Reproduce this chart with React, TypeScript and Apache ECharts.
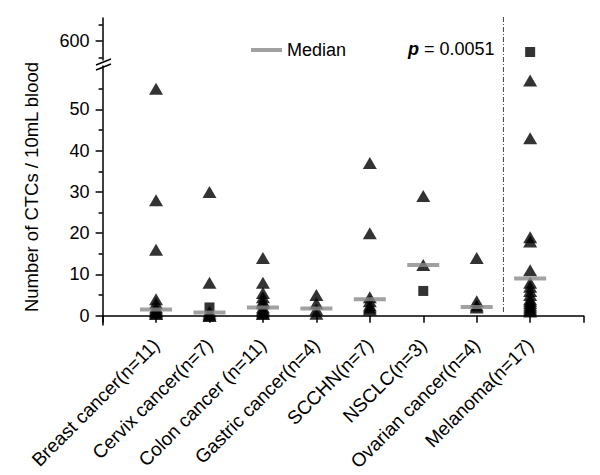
import React, { useEffect, useRef } from 'react';
import * as echarts from 'echarts';

const categories = [
  'Breast cancer(n=11)',
  'Cervix cancer(n=7)',
  'Colon cancer (n=11)',
  'Gastric cancer(n=4)',
  'SCCHN(n=7)',
  'NSCLC(n=3)',
  'Ovarian cancer(n=4)',
  'Melanoma(n=17)',
];

// triangle-marked values per group (CTCs / 10 mL blood)
const breastTriangles = [55, 28, 16, 4, 3, 2, 1.5, 1, 1, 0.5, 0.5];
const cervixTriangles = [30, 8, 1, 0.5, 0, 0];
const colonTriangles = [14, 8, 5.5, 4.5, 3.5, 3, 2, 1.5, 1, 0.5, 0.5];
const gastricTriangles = [5, 3, 1.5, 0.5];
const scchnTriangles = [37, 20, 4.5, 3.5, 2.5, 2, 1.5];
const nsclcTriangles = [29, 12.3];
const ovarianTriangles = [14, 3.5, 2.5, 2];
const melanomaTriangles = [57, 43, 19, 18, 11, 8, 7, 6, 5, 4, 3.5, 3, 2.5, 2, 1.5, 1];

// square-marked values: [group position (1-based), value]
const squarePoints: [number, number][] = [
  [2, 2],
  [6, 6],
  [8, 567],
];

const medians = [1.5, 0.75, 2, 1.75, 4, 12.3, 2.1, 9];

const lowerTicks = [0, 10, 20, 30, 40, 50];
const lowerMinorTicks = [5, 15, 25, 35, 45, 55];
const upperTicks = [600];
const upperMinorTicks = [550, 650];

const FONT = '"Liberation Sans", Arial, sans-serif';
const BREAK_LOW = 60.5; // top of lower segment
const BREAK_HIGH = 543; // bottom of upper segment

export default function App() {
  const ref = useRef<HTMLDivElement>(null);

  useEffect(() => {
    if (!ref.current) return;
    const chart = echarts.init(ref.current, null, { renderer: 'svg' });

    const groups = [
      breastTriangles,
      cervixTriangles,
      colonTriangles,
      gastricTriangles,
      scchnTriangles,
      nsclcTriangles,
      ovarianTriangles,
      melanomaTriangles,
    ];
    const triangleData: [number, number][] = [];
    groups.forEach((g, i) => g.forEach((v) => triangleData.push([i + 1, v])));
    const lowSquares = squarePoints.filter((p) => p[1] <= BREAK_LOW);
    const highSquares = squarePoints.filter((p) => p[1] > BREAK_LOW);
    const medianData = medians.map((m, i) => [i + 1, m]);

    const axisLineStyle = { color: '#000', width: 1.5 };

    chart.setOption({
      animation: false,
      textStyle: { fontFamily: FONT },
      title: {
        text: '{p|p} = 0.0051',
        left: 403,
        top: 35,
        textStyle: {
          fontSize: 18,
          fontWeight: 'normal',
          color: '#000',
          fontFamily: FONT,
          rich: {
            p: { fontSize: 18, fontWeight: 'bold', fontStyle: 'italic', color: '#000', fontFamily: FONT },
          },
        },
      },
      legend: {
        data: ['Median'],
        left: 246,
        top: 36,
        icon: 'rect',
        itemWidth: 31,
        itemHeight: 4,
        textStyle: { fontSize: 18, color: '#000', fontFamily: FONT },
        itemStyle: { color: '#8a8a8a' },
      },
      grid: [
        { left: 102.6, right: 16.4, top: 66, bottom: 150 },
        { left: 102.6, right: 16.4, top: 18, height: 42 },
      ],
      xAxis: [
        {
          type: 'value',
          gridIndex: 0,
          min: 0,
          max: 9,
          interval: 1,
          splitLine: { show: false },
          axisLine: { lineStyle: axisLineStyle },
          axisTick: { length: 7, lineStyle: { color: '#000', width: 1.5 } },
          axisLabel: {
            rotate: 45,
            margin: 17,
            fontSize: 19,
            color: '#000',
            fontFamily: FONT,
            formatter: (v: number) => categories[v - 1] ?? '',
          },
        },
        {
          type: 'value',
          gridIndex: 1,
          min: 0,
          max: 9,
          interval: 1,
          show: false,
        },
      ],
      yAxis: [
        {
          type: 'value',
          gridIndex: 0,
          position: 'left',
          min: -2.25,
          max: BREAK_LOW,
          splitLine: { show: false },
          axisLine: { show: true, lineStyle: axisLineStyle },
          axisTick: { customValues: lowerTicks, length: 7, lineStyle: { color: '#000', width: 1.5 } },
          axisLabel: { customValues: lowerTicks, margin: 13, fontSize: 18, color: '#000', fontFamily: FONT },
        },
        {
          type: 'value',
          gridIndex: 0,
          position: 'left',
          offset: 0,
          min: -2.25,
          max: BREAK_LOW,
          splitLine: { show: false },
          axisLine: { show: false },
          axisTick: { customValues: lowerMinorTicks, length: 4, lineStyle: { color: '#000', width: 1.5 } },
          axisLabel: { show: false },
        },
        {
          type: 'value',
          gridIndex: 1,
          position: 'left',
          min: BREAK_HIGH,
          max: 669,
          splitLine: { show: false },
          axisLine: { show: true, lineStyle: axisLineStyle },
          axisTick: { customValues: upperTicks, length: 7, lineStyle: { color: '#000', width: 1.5 } },
          axisLabel: { customValues: upperTicks, margin: 13, fontSize: 18, color: '#000', fontFamily: FONT },
        },
        {
          type: 'value',
          gridIndex: 1,
          position: 'left',
          offset: 0,
          min: BREAK_HIGH,
          max: 669,
          splitLine: { show: false },
          axisLine: { show: false },
          axisTick: { customValues: upperMinorTicks, length: 4, lineStyle: { color: '#000', width: 1.5 } },
          axisLabel: { show: false },
        },
      ],
      series: [
        {
          name: 'CTC',
          type: 'scatter',
          xAxisIndex: 0,
          yAxisIndex: 0,
          symbol: 'triangle',
          symbolSize: [14, 12],
          itemStyle: { color: '#000' },
          data: triangleData,
          z: 2,
        },
        {
          name: 'CTC-square',
          type: 'scatter',
          xAxisIndex: 0,
          yAxisIndex: 0,
          symbol: 'rect',
          symbolSize: 10,
          itemStyle: { color: '#000' },
          data: lowSquares,
          z: 2,
        },
        {
          name: 'CTC-square-high',
          type: 'scatter',
          xAxisIndex: 1,
          yAxisIndex: 2,
          symbol: 'rect',
          symbolSize: 10,
          itemStyle: { color: '#000' },
          data: highSquares,
          z: 2,
        },
        {
          name: 'Median',
          type: 'scatter',
          xAxisIndex: 0,
          yAxisIndex: 0,
          symbol: 'rect',
          symbolSize: [32, 4],
          itemStyle: { color: '#8a8a8a' },
          data: medianData,
          z: 5,
        },
      ],
    });

    const sepX = chart.convertToPixel({ xAxisIndex: 0 }, 7.5) as number;
    chart.setOption({
      graphic: [
        {
          type: 'text',
          x: 31,
          y: 187,
          rotation: Math.PI / 2,
          style: {
            text: 'Number of CTCs / 10mL blood',
            fontSize: 18.5,
            fontFamily: FONT,
            fill: '#000',
            align: 'center',
            verticalAlign: 'middle',
          },
        },
        {
          type: 'line',
          shape: { x1: sepX, y1: 17, x2: sepX, y2: 313 },
          style: { stroke: '#444', lineWidth: 1, lineDash: [5, 2, 1, 2] },
        },
        // axis break marks
        {
          type: 'line',
          shape: { x1: 96, y1: 65, x2: 111, y2: 59 },
          style: { stroke: '#000', lineWidth: 1.5 },
        },
        {
          type: 'line',
          shape: { x1: 96, y1: 70, x2: 111, y2: 64 },
          style: { stroke: '#000', lineWidth: 1.5 },
        },
      ],
    });

    return () => chart.dispose();
  }, []);

  return (
    <div
      ref={ref}
      style={{ position: 'fixed', left: 0, top: 0, width: 600, height: 475, background: '#fff' }}
    />
  );
}
